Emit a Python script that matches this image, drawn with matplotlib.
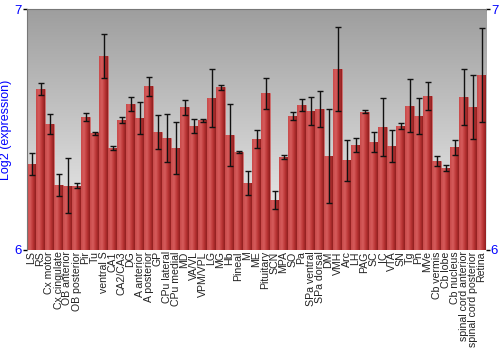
import matplotlib
matplotlib.use("Agg")
import matplotlib.pyplot as plt
import numpy as np

plt.rcParams['font.family'] = ['Liberation Sans', 'DejaVu Sans']

regions = ["LS", "RS", "Cx motor", "Cx cingulate", "OB anterior", "OB posterior", "Pir", "Tu",
           "ventral S", "CA1", "CA2/CA3", "DG", "A anterior", "A posterior", "GP", "CPu lateral",
           "CPu medial", "MD", "VA/VL", "VPM/VPL", "LG", "MG", "Hb", "Pineal", "M", "ME",
           "Pituitary", "SCN", "MPA", "SO", "Pa", "SPa ventral", "SPa dorsal", "DM", "VMH", "Arc",
           "LH", "PAG", "SC", "IC", "VTA", "SN", "Tg", "Pn", "MVe", "Cb vermis", "Cb lobe",
           "Cb nucleus", "spinal cord anterior", "spinal cord posterior", "Retina"]
expr = [6.357, 6.668, 6.523, 6.270, 6.266, 6.266, 6.552, 6.485, 6.805, 6.423, 6.539, 6.606,
        6.548, 6.680, 6.490, 6.465, 6.423, 6.593, 6.515, 6.539, 6.631, 6.676, 6.477, 6.407,
        6.278, 6.461, 6.651, 6.207, 6.386, 6.556, 6.602, 6.577, 6.585, 6.390, 6.751, 6.373,
        6.436, 6.573, 6.448, 6.510, 6.432, 6.515, 6.598, 6.556, 6.639, 6.369, 6.340, 6.427,
        6.635, 6.593, 6.726]
err = [0.046, 0.025, 0.041, 0.046, 0.114, 0.010, 0.017, 0.006, 0.091, 0.010, 0.012, 0.031,
       0.068, 0.039, 0.071, 0.100, 0.108, 0.031, 0.029, 0.006, 0.120, 0.010, 0.129, 0.004,
       0.050, 0.037, 0.064, 0.037, 0.008, 0.017, 0.025, 0.060, 0.075, 0.195, 0.174, 0.085,
       0.029, 0.006, 0.041, 0.122, 0.068, 0.012, 0.110, 0.075, 0.060, 0.019, 0.012, 0.031,
       0.118, 0.133, 0.195]

fig = plt.figure(figsize=(5, 3.5), dpi=100)
ax = fig.add_axes([0.054, 0.286, 0.918, 0.688])
x = np.arange(len(regions))
n = len(regions)
ax.set_xlim(-0.5, n - 0.5)
ax.set_ylim(6, 7)

# background gradient, light at top, gray at bottom
grad = np.linspace(0, 1, 256).reshape(-1, 1)
ax.imshow(grad, cmap=matplotlib.colors.LinearSegmentedColormap.from_list("bg", ["#f4f4f4", "#9e9e9e"]),
          extent=[-0.5, n - 0.5, 7, 6], aspect="auto", zorder=0)

bars = ax.bar(x, np.array(expr) - 6, bottom=6, width=0.92, color="#c03a3a",
              edgecolor="#d26a6a", linewidth=0.5, zorder=2)
bar_cmap = matplotlib.colors.LinearSegmentedColormap.from_list(
    "bar", ["#c84a4a", "#d65c5c", "#bb3636", "#901f1f"])
hgrad = np.linspace(0, 1, 64).reshape(1, -1)
for b in bars:
    im = ax.imshow(hgrad, cmap=bar_cmap, aspect="auto", zorder=2.5,
                   extent=[b.get_x(), b.get_x() + b.get_width(), 6, b.get_y() + b.get_height()])
    im.set_clip_path(b)

ax.errorbar(x, expr, yerr=err, fmt="none", ecolor="#111111", elinewidth=1, capsize=2,
            capthick=1, zorder=3)

ax.set_xticks(x)
ax.set_xticklabels(regions, rotation=90, fontsize=7.6, color="#222222")
ax.tick_params(axis="x", length=0, pad=1)
ax.set_yticks([6, 7])
ax.set_yticklabels(["6", "7"], color="#0000ff", fontsize=9.5)
ax.tick_params(axis="y", length=3, width=1, color="black", pad=0.5, labelright=True, right=True)
ax.set_ylabel("Log2 (expression)", color="#0000ff", fontsize=9)
ax.yaxis.set_label_coords(-0.032, 0.5)

for side in ["top", "left"]:
    ax.spines[side].set_color("#777777")
ax.spines["bottom"].set_visible(False)
ax.spines["right"].set_visible(False)

fig.savefig("out.png", dpi=100)
